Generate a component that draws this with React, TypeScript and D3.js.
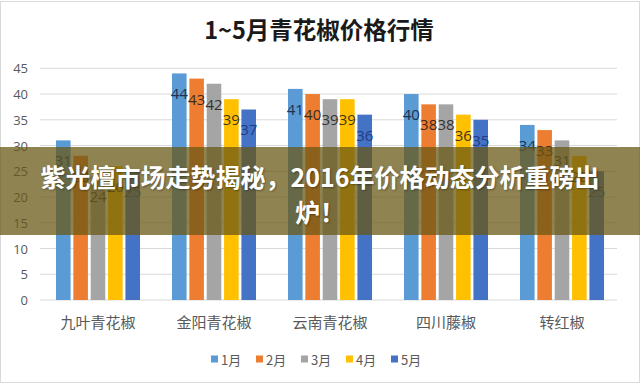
import React from "react";
import * as d3 from "d3";

const categories = ["九叶青花椒", "金阳青花椒", "云南青花椒", "四川藤椒", "转红椒"];
const seriesNames = ["1月", "2月", "3月", "4月", "5月"];
const jan = [31, 44, 41, 40, 34];
const feb = [28, 43, 40, 38, 33];
const mar = [24, 42, 39, 38, 31];
const apr = [26, 39, 39, 36, 28];
const may = [25, 37, 36, 35, 25];
const yTicks = [0, 5, 10, 15, 20, 25, 30, 35, 40, 45];
const title = "1~5月青花椒价格行情";
const bannerLines = ["紫光檀市场走势揭秘，2016年价格动态分析重磅出", "炉！"];

const seriesValues = [jan, feb, mar, apr, may];
const colors = ["#5B9BD5", "#ED7D31", "#A5A5A5", "#FFC000", "#4472C4"];
const labelColors = ["#1f3050", "#3d2b1f", "#333333", "#40361a", "#1f3c88"];

const W = 640;
const H = 384;

export default function App() {
  const x0 = d3.scaleBand<string>().domain(categories).range([40, 620]).padding(0);
  const x1 = d3
    .scaleBand<string>()
    .domain(seriesNames)
    .range([16, 100])
    .paddingInner(0.16)
    .paddingOuter(0);
  const y = d3.scaleLinear().domain([0, 45]).range([300, 68.3]);
  const legendX = d3.scaleBand<string>().domain(seriesNames).range([211, 436]);

  const numFont = "'Open Sans', 'Liberation Sans', sans-serif";
  const cjkFont = "'Noto Sans CJK SC', 'Noto Sans', sans-serif";

  return (
    <div style={{ position: "fixed", left: 0, top: 0, width: W, height: H }}>
      <svg width={W} height={H} style={{ display: "block" }}>
        <rect x={0} y={0} width={W} height={H} fill="#ffffff" />
        <rect x={0.5} y={1.5} width={W - 1} height={H - 3} fill="none" stroke="#d9d9d9" strokeWidth={1} />

        <text
          x={319}
          y={29}
          textAnchor="middle"
          dominantBaseline="central"
          fontFamily={cjkFont}
          fontWeight={700}
          fontSize={23.5}
          fill="#1a1a1a"
        >
          {title}
        </text>

        {yTicks.map((t) => (
          <g key={t}>
            <line x1={40} x2={617} y1={y(t)} y2={y(t)} stroke="#d9d9d9" strokeWidth={1} />
            <text
              x={28}
              y={y(t)}
              textAnchor="end"
              dominantBaseline="central"
              fontFamily={numFont}
              fontSize={13}
              fill="#595959"
            >
              {t}
            </text>
          </g>
        ))}

        {categories.map((c, ci) => (
          <g key={c} transform={`translate(${x0(c)},0)`}>
            {seriesNames.map((s, si) => {
              const v = seriesValues[si][ci];
              return (
                <rect
                  key={s}
                  x={x1(s)}
                  y={y(v)}
                  width={x1.bandwidth()}
                  height={y(0) - y(v)}
                  fill={colors[si]}
                />
              );
            })}
            {seriesNames.map((s, si) => {
              const v = seriesValues[si][ci];
              return (
                <text
                  key={s + "l"}
                  x={(x1(s) as number) + x1.bandwidth() / 2}
                  y={y(v) + 20}
                  textAnchor="middle"
                  dominantBaseline="central"
                  fontFamily={numFont}
                  fontSize={15}
                  fill={labelColors[si]}
                >
                  {v}
                </text>
              );
            })}
            <text
              x={x0.bandwidth() / 2}
              y={321}
              textAnchor="middle"
              dominantBaseline="central"
              fontFamily={cjkFont}
              fontSize={15}
              fill="#595959"
            >
              {c}
            </text>
          </g>
        ))}

        {seriesNames.map((s, si) => (
          <g key={s} transform={`translate(${legendX(s)},359)`}>
            <rect x={0} y={-3.5} width={7} height={7} fill={colors[si]} />
            <text
              x={10}
              y={0}
              dominantBaseline="central"
              fontFamily={cjkFont}
              fontSize={13}
              fill="#595959"
            >
              {s}
            </text>
          </g>
        ))}

        <rect x={0} y={147} width={W} height={88} fill="rgba(105,88,22,0.74)" />
        {bannerLines.map((line, i) => (
          <text
            key={i}
            x={320}
            y={176 + i * 35}
            textAnchor="middle"
            dominantBaseline="central"
            fontFamily={cjkFont}
            fontWeight={700}
            fontSize={25}
            fill="#ffffff"
            style={{ textShadow: "1px 1px 2px rgba(0,0,0,0.35)" }}
          >
            {line}
          </text>
        ))}
      </svg>
    </div>
  );
}
